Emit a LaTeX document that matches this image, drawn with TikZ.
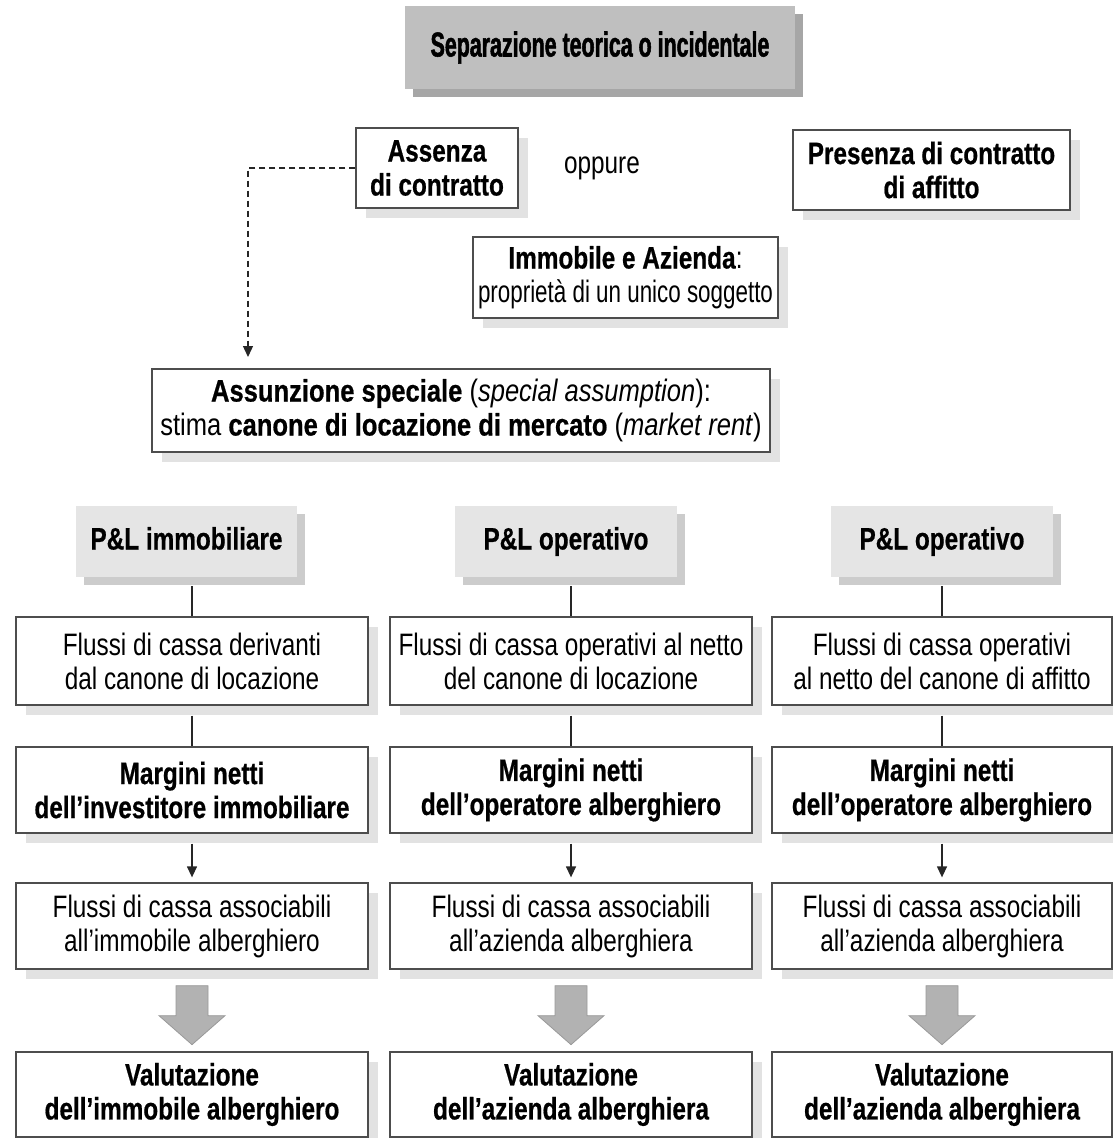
\documentclass[tikz,border=0pt]{standalone}
\usepackage{fontspec}
\setmainfont{Liberation Sans}[FakeStretch=0.785, BoldFeatures={FakeBold=0.6}]
\newfontfamily\titlefont{Liberation Sans}[FakeStretch=0.62, BoldFeatures={FakeBold=1.5}]
\usetikzlibrary{arrows.meta,shadows,calc}
\definecolor{titlefill}{HTML}{BFBFBF}
\definecolor{titleshadow}{HTML}{A6A6A6}
\definecolor{hdrfill}{HTML}{E5E5E5}
\definecolor{hdrshadow}{HTML}{CCCCCC}
\definecolor{boxshadow}{HTML}{E2E2E2}
\definecolor{boxline}{HTML}{4D4D4D}
\definecolor{bigarrow}{HTML}{B2B2B2}
\definecolor{bigarrowline}{HTML}{999999}
\begin{document}
\begin{tikzpicture}[x=1pt,y=-1pt,
  every node/.style={font=\fontsize{31}{34}\selectfont},
  base/.style={rectangle, inner sep=0pt, align=center},
  titlebox/.style={base, fill=titlefill, font=\fontsize{34.5}{36}\selectfont\titlefont\bfseries,
     text height=25pt, text depth=7pt,
     drop shadow={shadow xshift=8pt, shadow yshift=-8pt, fill=titleshadow, opacity=1}},
  hdrbox/.style={base, fill=hdrfill, font=\fontsize{31}{34}\selectfont\bfseries,
     text height=23pt, text depth=7pt,
     drop shadow={shadow xshift=8pt, shadow yshift=-8pt, fill=hdrshadow, opacity=1}},
  wbox/.style={base, draw=boxline, line width=1.3pt, fill=white,
     drop shadow={shadow xshift=10pt, shadow yshift=-10pt, fill=boxshadow, opacity=1}},
  bbox/.style={wbox, font=\fontsize{31}{34}\selectfont\bfseries},
  conn/.style={draw=black!85, line width=1.3pt},
  arrconn/.style={conn, -{Triangle[length=11pt,width=10pt]}},
  dashconn/.style={conn, dash pattern=on 6pt off 4pt, -{Triangle[length=11pt,width=10pt]}},
  bigarr/.style={fill=bigarrow, draw=bigarrowline, line width=0.8pt}
]
\useasboundingbox (0,0) rectangle (1112,1138);

% top part
\node[titlebox, minimum width=390, minimum height=83] (title) at (600,47.5) {Separazione teorica o incidentale};
\node[bbox, minimum width=162, minimum height=80] (assenza) at (437,168) {Assenza\\di contratto};
\node[base] (oppure) at (602,168) {oppure};
\node[bbox, minimum width=277, minimum height=80] (presenza) at (931.5,170) {Presenza di contratto\\di affitto};
\node[wbox, minimum width=305, minimum height=81] (immobile) at (625.5,277.5)
  {\textbf{Immobile e Azienda}:\\\scalebox{0.92}[1]{proprietà di un unico soggetto}};
\node[wbox, minimum width=618, minimum height=83] (assunz) at (461,410.5)
  {\scalebox{1.05}[1]{\textbf{Assunzione speciale} (\textit{special assumption}):}\\
   \scalebox{1.05}[1]{stima \textbf{canone di locazione di mercato} (\textit{market rent})}};
\coordinate (dtip) at (248,357);
\draw[dashconn] (assenza.west) -| (dtip);

% headers
\node[hdrbox, minimum width=221, minimum height=71] (hdra) at (186.5,541.5) {P\&L immobiliare};
\node[hdrbox, minimum width=222, minimum height=71] (hdrb) at (566,541.5) {P\&L operativo};
\node[hdrbox, minimum width=222, minimum height=71] (hdrc) at (942,541.5) {P\&L operativo};

% column 1
\node[wbox, minimum width=352, minimum height=88] (r1a) at (192,661) {Flussi di cassa derivanti\\dal canone di locazione};
\node[bbox, minimum width=352, minimum height=86] (r2a) at (192,790) {Margini netti\\dell’investitore immobiliare};
\node[wbox, minimum width=352, minimum height=86] (r3a) at (192,926) {Flussi di cassa associabili\\all’immobile alberghiero};
\node[bbox, minimum width=352, minimum height=85] (r4a) at (192,1094.5) {Valutazione\\dell’immobile alberghiero};

% column 2
\node[wbox, minimum width=362, minimum height=88] (r1b) at (571,661) {Flussi di cassa operativi al netto\\del canone di locazione};
\node[bbox, minimum width=362, minimum height=86] (r2b) at (571,790) {Margini netti\\dell’operatore alberghiero};
\node[wbox, minimum width=362, minimum height=86] (r3b) at (571,926) {Flussi di cassa associabili\\all’azienda alberghiera};
\node[bbox, minimum width=362, minimum height=85] (r4b) at (571,1094.5) {Valutazione\\dell’azienda alberghiera};

% column 3
\node[wbox, minimum width=340, minimum height=88] (r1c) at (942,661) {Flussi di cassa operativi\\al netto del canone di affitto};
\node[bbox, minimum width=340, minimum height=86] (r2c) at (942,790) {Margini netti\\dell’operatore alberghiero};
\node[wbox, minimum width=340, minimum height=86] (r3c) at (942,926) {Flussi di cassa associabili\\all’azienda alberghiera};
\node[bbox, minimum width=340, minimum height=85] (r4c) at (942,1094.5) {Valutazione\\dell’azienda alberghiera};

% connectors
\foreach \c/\h in {a/hdra, b/hdrb, c/hdrc} {
  \draw[conn, shorten <=9pt] (r1\c.north |- \h.south) -- (r1\c.north);
  \draw[conn, shorten <=10pt] (r1\c.south) -- (r2\c.north);
  \draw[arrconn, shorten <=10pt, shorten >=5pt] (r2\c.south) -- (r3\c.north);
  \draw[bigarr] ($(r3\c.south)+(-16,16)$) -- ++(32,0) -- ++(0,30) -- ++(17,0)
     -- ++(-33,29) -- ++(-33,-29) -- ++(17,0) -- cycle;
}
\end{tikzpicture}
\end{document}
